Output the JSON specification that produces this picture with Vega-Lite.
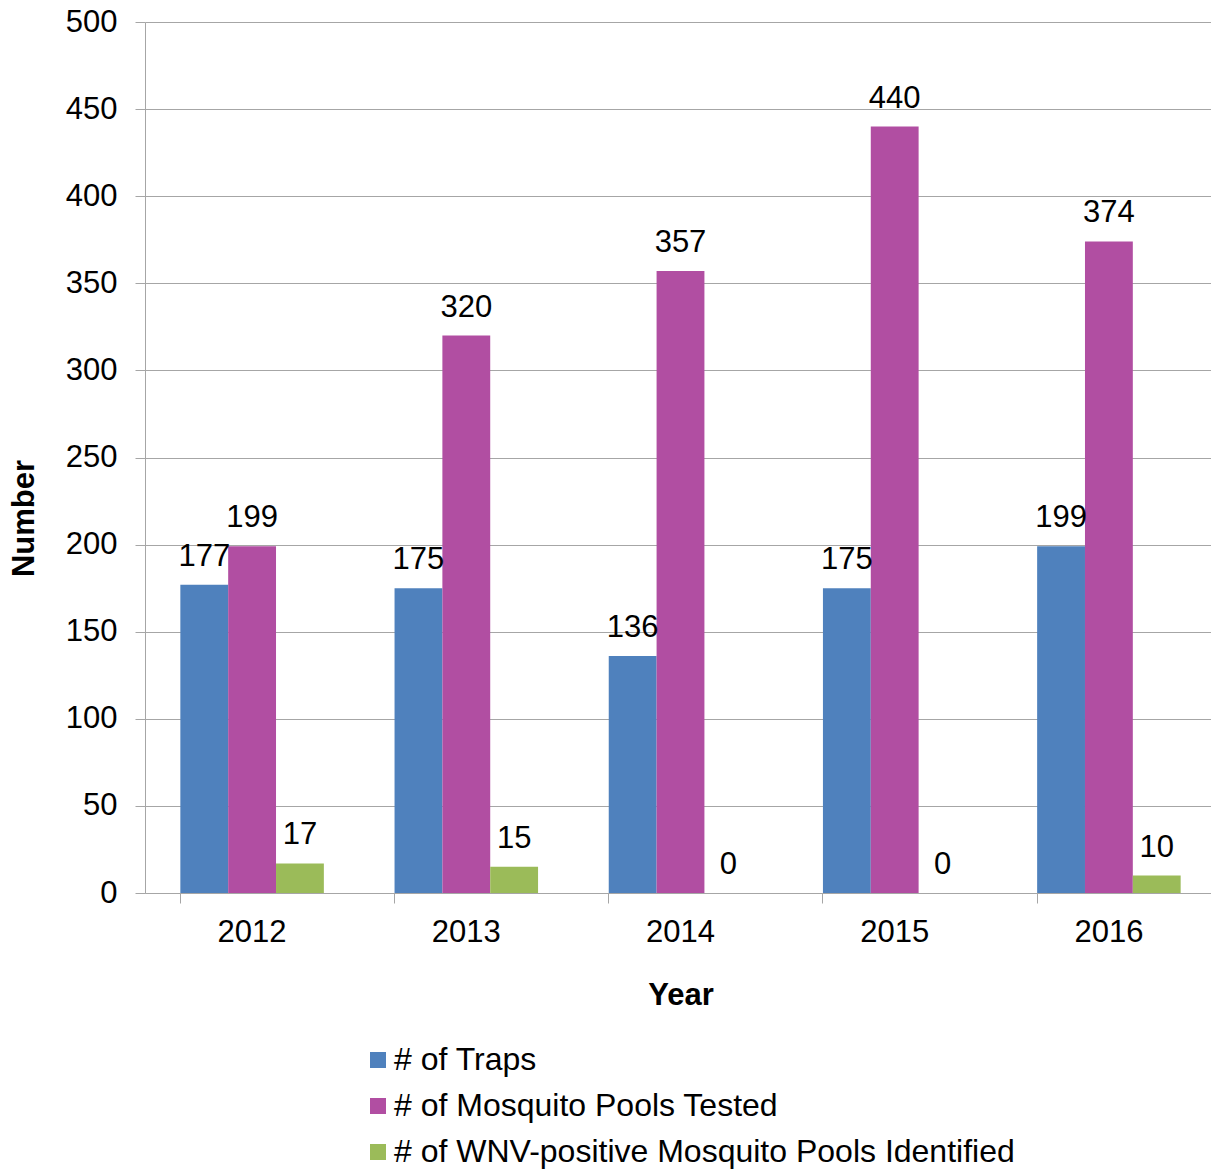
{
  "$schema": "https://vega.github.io/schema/vega-lite/v6.json",
  "autosize": {"type": "none"},
  "padding": {"left": 145, "top": 22, "right": -5, "bottom": 277},
  "width": 1071,
  "height": 871,
  "background": "white",
  "config": {
    "font": "Liberation Sans",
    "view": {"stroke": null},
    "axis": {"labelFont": "Liberation Sans", "titleFont": "Liberation Sans"}
  },
  "data": {
    "values": [
      {"year": "2012", "series": "# of Traps", "value": 177},
      {"year": "2012", "series": "# of Mosquito Pools Tested", "value": 199},
      {"year": "2012", "series": "# of WNV-positive Mosquito Pools Identified", "value": 17},
      {"year": "2013", "series": "# of Traps", "value": 175},
      {"year": "2013", "series": "# of Mosquito Pools Tested", "value": 320},
      {"year": "2013", "series": "# of WNV-positive Mosquito Pools Identified", "value": 15},
      {"year": "2014", "series": "# of Traps", "value": 136},
      {"year": "2014", "series": "# of Mosquito Pools Tested", "value": 357},
      {"year": "2014", "series": "# of WNV-positive Mosquito Pools Identified", "value": 0},
      {"year": "2015", "series": "# of Traps", "value": 175},
      {"year": "2015", "series": "# of Mosquito Pools Tested", "value": 440},
      {"year": "2015", "series": "# of WNV-positive Mosquito Pools Identified", "value": 0},
      {"year": "2016", "series": "# of Traps", "value": 199},
      {"year": "2016", "series": "# of Mosquito Pools Tested", "value": 374},
      {"year": "2016", "series": "# of WNV-positive Mosquito Pools Identified", "value": 10}
    ]
  },
  "encoding": {
    "x": {
      "field": "year", "type": "nominal",
      "scale": {"paddingInner": 0.33, "paddingOuter": 0.165},
      "axis": {
        "title": "Year",
        "titleFontSize": 31, "titleFontWeight": "bold", "titleColor": "black",
        "titleBaseline": "alphabetic", "titleY": 111,
        "labelAngle": 0, "labelFontSize": 31, "labelColor": "black", "labelPadding": 14,
        "bandPosition": 0,
        "tickSize": 10, "tickColor": "#a6a6a6", "domainColor": "#a6a6a6",
        "grid": false
      }
    },
    "y": {
      "field": "value", "type": "quantitative",
      "scale": {"domain": [0, 500], "nice": false},
      "axis": {
        "title": "Number",
        "titleFontSize": 31, "titleFontWeight": "bold", "titleColor": "black",
        "titleAngle": 270, "titleAlign": "center", "titleBaseline": "middle",
        "titleX": -121, "titleY": 496,
        "values": [0, 50, 100, 150, 200, 250, 300, 350, 400, 450, 500],
        "labelFontSize": 31, "labelColor": "black", "labelPadding": 18,
        "tickSize": 10, "tickColor": "#a6a6a6", "domainColor": "#a6a6a6",
        "grid": true, "gridColor": "#a6a6a6", "gridWidth": 1
      }
    },
    "xOffset": {
      "field": "series", "type": "nominal",
      "sort": ["# of Traps", "# of Mosquito Pools Tested", "# of WNV-positive Mosquito Pools Identified"],
      "scale": {"paddingInner": 0, "paddingOuter": 0}
    }
  },
  "layer": [
    {
      "mark": {"type": "bar"},
      "encoding": {
        "color": {
          "field": "series", "type": "nominal",
          "sort": ["# of Traps", "# of Mosquito Pools Tested", "# of WNV-positive Mosquito Pools Identified"],
          "scale": {
            "domain": ["# of Traps", "# of Mosquito Pools Tested", "# of WNV-positive Mosquito Pools Identified"],
            "range": ["#4F81BD", "#B14EA2", "#9BBB59"]
          },
          "legend": {
            "title": null,
            "orient": "none",
            "legendX": 217,
            "legendY": 1022,
            "direction": "vertical",
            "padding": 0,
            "symbolType": "square",
            "symbolSize": 256,
            "symbolStrokeWidth": 0,
            "labelFontSize": 32,
            "labelColor": "black",
            "labelOffset": 0,
            "rowPadding": 14,
            "labelLimit": 900
          }
        }
      }
    },
    {
      "mark": {"type": "text", "baseline": "alphabetic", "dy": -19, "fontSize": 31, "color": "black", "font": "Liberation Sans"},
      "encoding": {
        "text": {"field": "value", "type": "quantitative"}
      }
    }
  ]
}
